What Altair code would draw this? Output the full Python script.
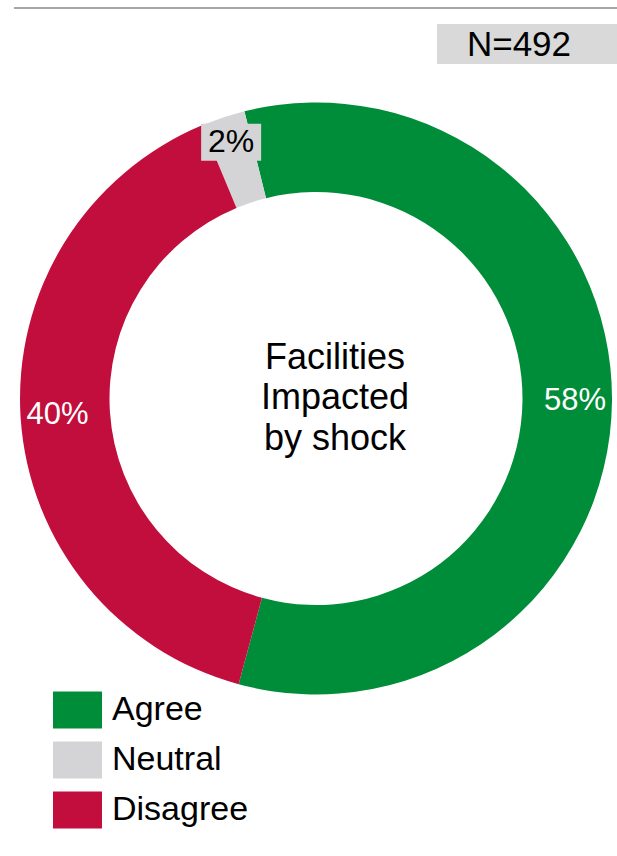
import math
import altair as alt
import pandas as pd

# ---- data ----
categories = ["Agree", "Neutral", "Disagree"]
values = [58.1, 2.4, 39.5]          # shares
labels = ["58%", "2%", "40%"]
ring_order = [0, 2, 1]              # drawing order around the ring (clockwise)
colors = ["#008D39", "#D4D4D6", "#C20E3D"]
center_lines = ["Facilities", "Impacted", "by shock"]
n_text = "N=492"

df = pd.DataFrame({"cat": categories, "value": values, "label": labels, "ord": ring_order})

FONT = "Liberation Sans"
CX, CY = 316, 398.5
R_OUT, R_IN = 296, 206.5
START = -14 * math.pi / 180

theta = alt.Theta("value:Q", stack=True,
                  scale=alt.Scale(range=[START, START + 2 * math.pi]))
order = alt.Order("ord:Q")

base = alt.Chart(df)

box_path = "M-1,-0.755H1V0.755H-1Z"

ring = base.mark_arc(outerRadius=R_OUT, innerRadius=R_IN).encode(
    theta=theta,
    order=order,
    x=alt.value(CX), y=alt.value(CY),
    color=alt.Color(
        "cat:N",
        scale=alt.Scale(domain=categories, range=colors),
        legend=alt.Legend(
            orient="none", legendX=53, legendY=685.5, title=None,
            symbolType=box_path, symbolSize=2401, symbolStrokeWidth=0,
            symbolOpacity=1, labelFontSize=34, labelFont=FONT,
            labelColor="#000000", labelOffset=10, rowPadding=7, padding=0,
            labelLimit=300,
        ),
    ),
)

big_labels = base.transform_calculate(
    t="datum.cat == 'Neutral' ? '' : datum.label"
).mark_text(radius=259, fontSize=31, font=FONT, color="white").encode(
    theta=theta, order=order, text="t:N",
    x=alt.value(CX), y=alt.value(CY),
)

# grey tag behind the small label
tag = base.transform_joinaggregate(total="sum(value)").transform_window(
    cum="sum(value)", sort=[alt.SortField("ord")], frame=[None, 0]
).transform_calculate(
    ang=f"{START} + 2*PI*(datum.cum - datum.value/2)/datum.total"
).transform_calculate(
    px=f"{CX} + 270*sin(datum.ang)",
    py=f"{CY} - 270*cos(datum.ang)",
).transform_calculate(
    x1="datum.px - 30", x2="datum.px + 30",
    y1="datum.py - 18.5", y2="datum.py + 18.5",
).transform_filter("datum.cat == 'Neutral'").mark_rect(color="#D4D4D6").encode(
    x=alt.X("x1:Q", scale=None, axis=None),
    x2="x2:Q",
    y=alt.Y("y1:Q", scale=None, axis=None),
    y2="y2:Q",
)

small_label = base.transform_calculate(
    t="datum.cat == 'Neutral' ? datum.label : ''"
).mark_text(radius=270, fontSize=32, font=FONT, color="black").encode(
    theta=theta, order=order, text="t:N",
    x=alt.value(CX), y=alt.value(CY),
)

center = alt.Chart(pd.DataFrame({"a": [0]})).mark_text(
    text=center_lines, fontSize=36, font=FONT, color="black",
    lineHeight=40.5, baseline="middle", align="center", dy=-41,
).encode(x=alt.value(335), y=alt.value(CY))

top_rule = alt.Chart(pd.DataFrame({"a": [0]})).mark_rule(
    color="#8A8A8A", strokeWidth=1.5
).encode(x=alt.value(14), x2=alt.value(617), y=alt.value(8))

n_box = alt.Chart(pd.DataFrame({"a": [0]})).mark_rect(color="#D9D9D9").encode(
    x=alt.value(437), x2=alt.value(617), y=alt.value(24), y2=alt.value(64)
)
n_label = alt.Chart(pd.DataFrame({"a": [0]})).mark_text(
    text=n_text, fontSize=35, font=FONT, color="black", baseline="middle"
).encode(x=alt.value(519), y=alt.value(45))

chart = alt.layer(
    top_rule, n_box, n_label, ring, big_labels, tag, small_label, center
).properties(
    width=617, height=856, autosize=alt.AutoSizeParams(type="none"), padding=0,
    background="white",
).configure_view(stroke=None)

chart.save("out.html", embed_options={"renderer": "svg", "actions": False})
